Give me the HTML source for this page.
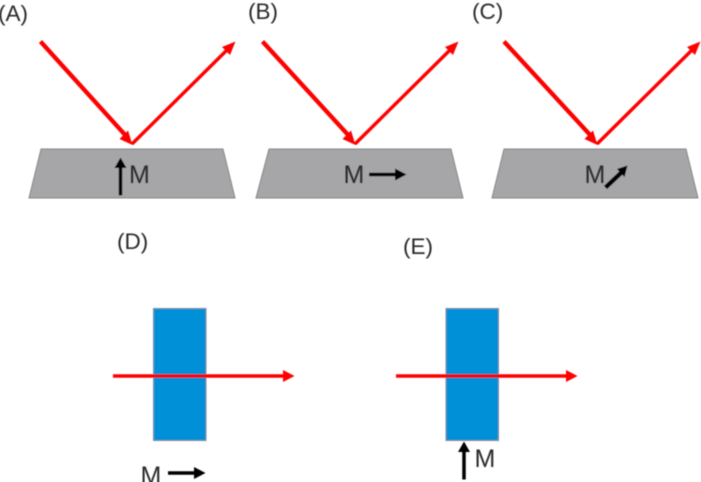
<!DOCTYPE html>
<html>
<head>
<meta charset="utf-8">
<style>
html,body{margin:0;padding:0;background:#fff;width:701px;height:482px;overflow:hidden}
svg{display:block}
text{font-family:"Liberation Sans",sans-serif;fill:#2a2a2a}
.m{font-size:25px}
.l{font-size:22.500px}
</style>
</head>
<body>
<svg width="701" height="482" viewBox="0 0 701 482" xmlns="http://www.w3.org/2000/svg">
<defs><filter id="b" x="-5%" y="-5%" width="110%" height="110%"><feGaussianBlur stdDeviation="0.4"/></filter></defs>
<g filter="url(#b)">
<g fill="#a6a6a8" stroke="#868686" stroke-width="1">
<polygon points="41,149 223,149 235,198 29,198"/>
<polygon points="269,149 451,149 463,198 256,198"/>
<polygon points="504,149 686,149 698,198 492,198"/>
</g>
<g fill="#0090d8" stroke="#7f8c99" stroke-width="1">
<rect x="153.500" y="308.500" width="52.500" height="132"/>
<rect x="446" y="308.500" width="52.500" height="132"/>
</g>
<g stroke="#ff0000" fill="none" stroke-linecap="butt">
<path d="M40.500 41.500L127 137" stroke-width="4.300"/><path d="M132 144L227 50" stroke-width="3.400"/>
<path d="M262.500 41.500L350 137" stroke-width="4.300"/><path d="M355 144L450 50" stroke-width="3.400"/>
<path d="M504 41.500L592 137" stroke-width="4.300"/><path d="M597 144L692 50" stroke-width="3.400"/>
<path d="M113 376H286" stroke-width="3.600"/><path d="M396 376H569" stroke-width="3.600"/>
</g>
<g fill="#ff0000">
<polygon points="132.500,145 119.500,139 128,130.500"/>
<polygon points="355.500,145 342.500,139 351,130.500"/>
<polygon points="597.500,145 584.500,139 593,130.500"/>
<polygon points="235.500,41.500 230,55 222,47"/>
<polygon points="458.500,41.500 453,55 445,47"/>
<polygon points="700.500,41.500 695,55 687,47"/>
<polygon points="294.500,376 283,370 283,382"/>
<polygon points="577.500,376 566,370 566,382"/>
</g>
<g stroke="#000" stroke-width="3.500" fill="none">
<path d="M120.500 195.500V166"/>
<path d="M369 174.500H397"/>
<path d="M605.500 187.500L623 171" stroke-width="4.500"/>
<path d="M168 473H196"/>
<path d="M464 479.500V450"/>
</g>
<g fill="#000">
<polygon points="120.500,157.500 114.500,168 126.500,168"/>
<polygon points="406.500,174.500 395,168.500 395,180.500"/>
<polygon points="627.500,165.500 617,169 624.500,177"/>
<polygon points="205.500,473 194,467 194,479"/>
<polygon points="464,441.500 458,452 470,452"/>
</g>
</g>
<g filter="url(#b)">
<text class="m" x="129" y="183">M</text>
<text class="m" x="343.500" y="183">M</text>
<text class="m" x="584.500" y="183">M</text>
<text class="m" x="140.500" y="484">M</text>
<text class="m" x="474.500" y="467">M</text>
<text class="l" x="-2" y="21">(A)</text>
<text class="l" x="248" y="19">(B)</text>
<text class="l" x="472" y="19">(C)</text>
<text class="l" x="117" y="249">(D)</text>
<text class="l" x="403" y="254">(E)</text>
</g>
</svg>
</body>
</html>
